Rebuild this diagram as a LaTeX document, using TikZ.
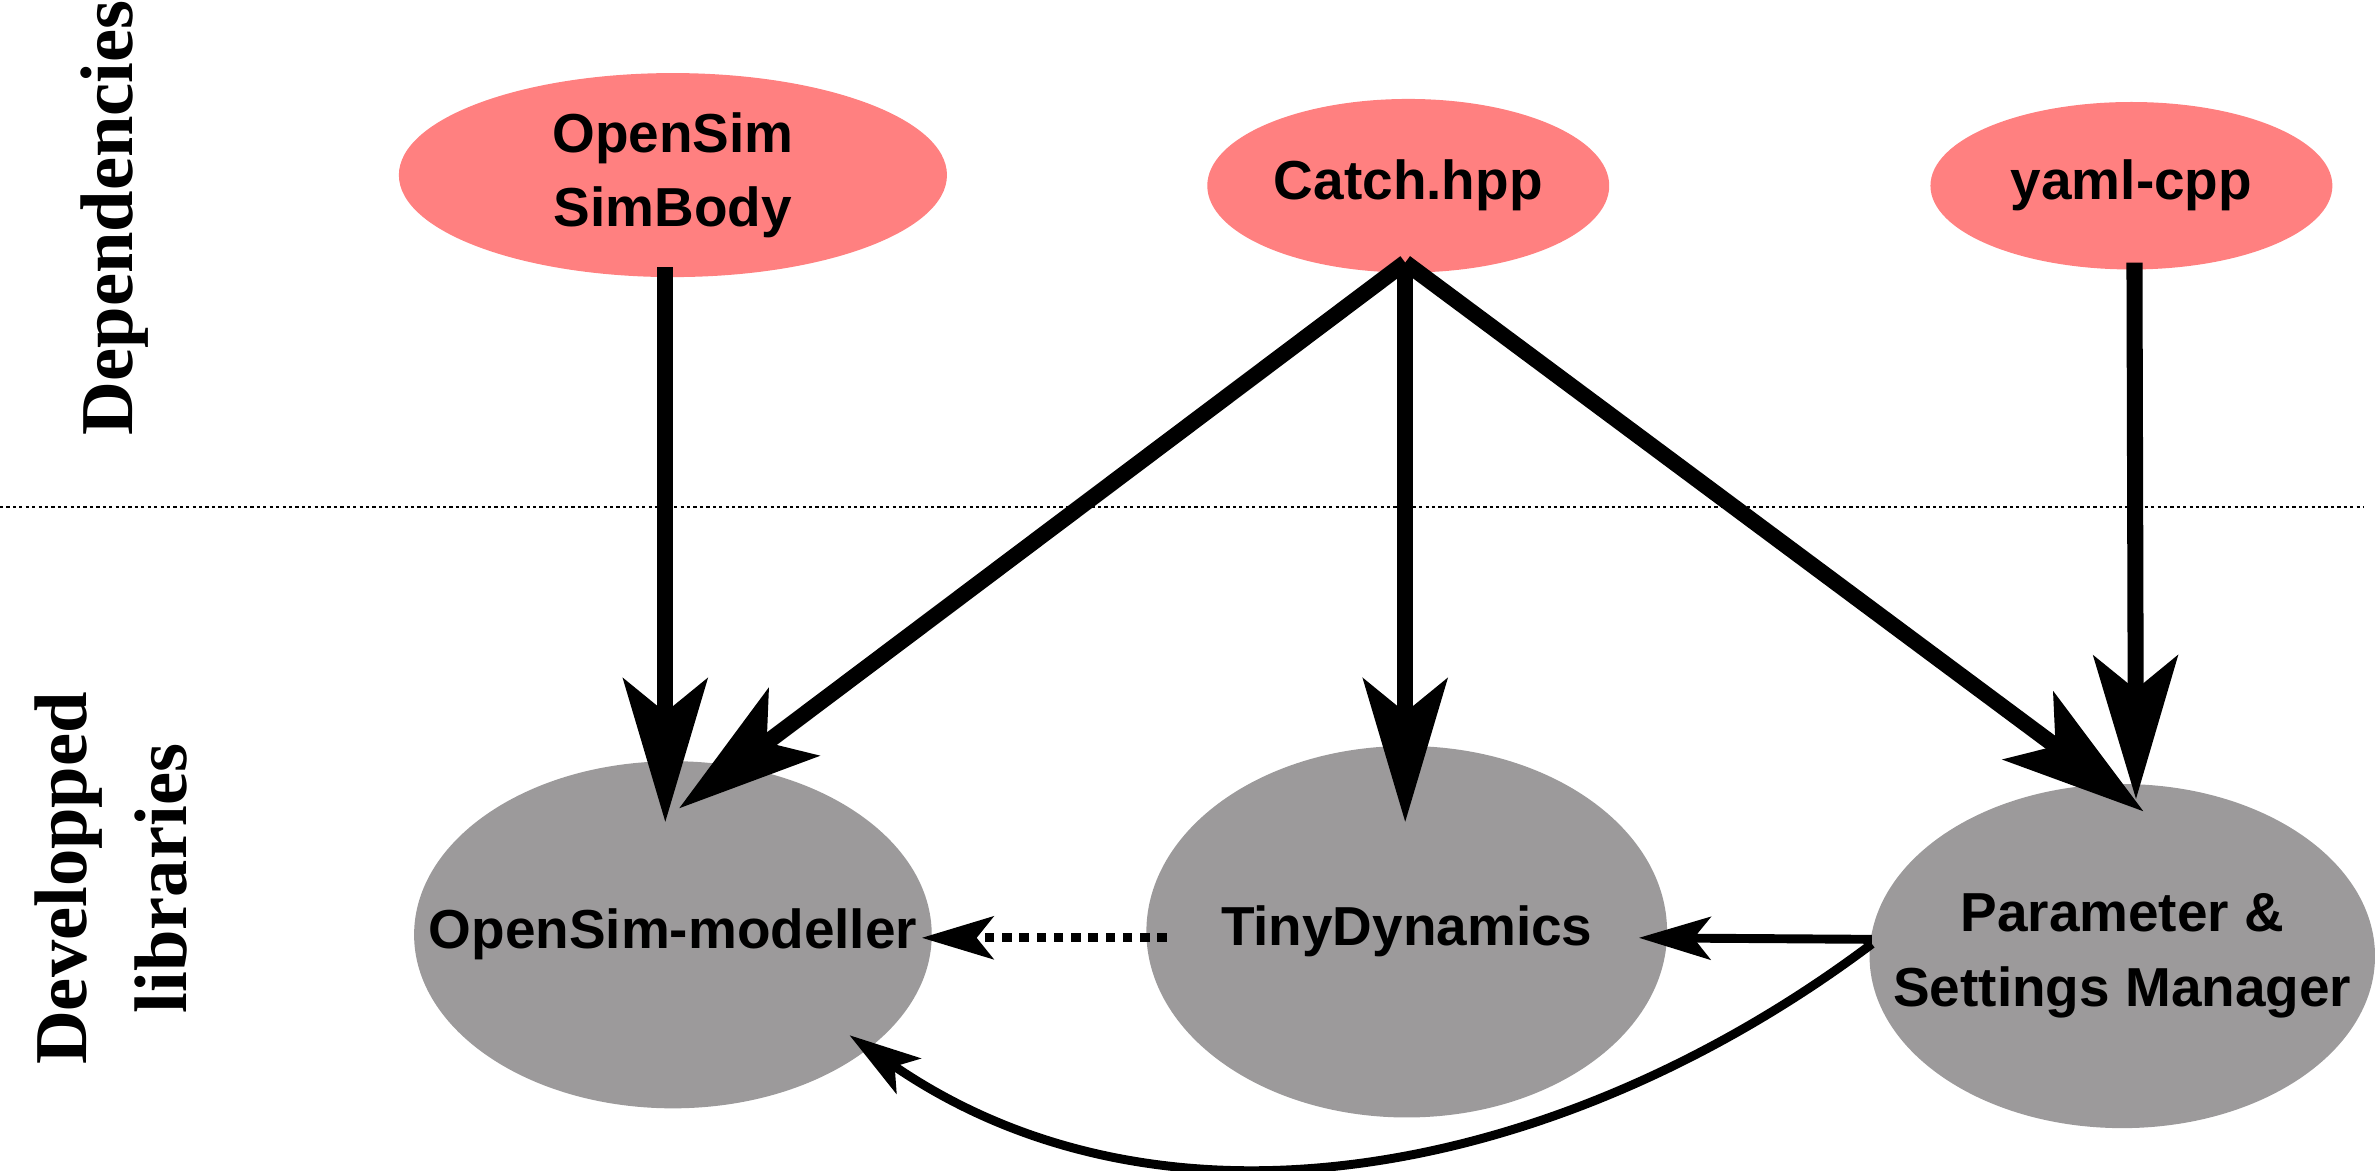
\documentclass[tikz,border=0pt]{standalone}
\usepackage{fontspec}
\setmainfont{Liberation Serif}
\setsansfont{Liberation Sans}
\usetikzlibrary{arrows.meta,calc,shapes.geometric}
\definecolor{pinkfill}{RGB}{255,128,128}
\definecolor{grayfill}{RGB}{156,154,155}
\begin{document}
\begin{tikzpicture}[x=0.015cm,y=-0.015cm,
  lib/.style={ellipse, inner sep=0pt, align=center,
    font=\sffamily\bfseries\fontsize{15.4}{20.9}\selectfont},
  depnode/.style={lib, fill=pinkfill},
  devnode/.style={lib, fill=grayfill},
  sidelabel/.style={rotate=90, align=center,
    font=\rmfamily\bfseries\fontsize{20.9}{28.2}\selectfont},
  thick arrow/.style={line width=4.5pt,
    -{Stealth[length=1.41cm,width=0.825cm,inset=0.33cm]}},
  thin arrow/.style={line width=2.5pt,
    -{Stealth[length=0.705cm,width=0.42cm,inset=0.165cm]}},
  sepline/.style={line width=0.75pt, dash pattern=on 0.9pt off 0.9pt}
]
\useasboundingbox (0,0) rectangle (1560,769);

% separator
\coordinate (sepL) at (0,333);
\coordinate (sepR) at (1553,333);
\draw[sepline] (sepL) -- (sepR);

% side labels
\node[sidelabel] (deplbl) at (75,143) {Dependencies};
\node[sidelabel] (devlbl) at (73,577) {Developped\\libraries};

% dependency nodes
\node[depnode, minimum width=5.4cm, minimum height=2.01cm] (A) at (442,115) {OpenSim\\SimBody};
\node[depnode, minimum width=3.96cm, minimum height=1.71cm] (B) at (925,122) {Catch.hpp};
\node[depnode, minimum width=3.96cm, minimum height=1.65cm] (C) at (1400,122) {yaml-cpp};

% developed libraries
\node[devnode, minimum width=5.1cm, minimum height=3.42cm] (D) at (442,614) {\makebox[0pt]{OpenSim-modeller}};
\node[devnode, minimum width=5.13cm, minimum height=3.66cm] (E) at (924,612) {\makebox[0pt]{TinyDynamics}};
\node[devnode, minimum width=4.98cm, minimum height=3.39cm] (F) at (1394,628) {\makebox[0pt]{Parameter \&}\\\makebox[0pt]{Settings Manager}};

% thick dependency arrows
\draw[thick arrow] ($(A.south)+(-5,-7)$) -- ($(D.center)+(-5,-74)$);
\draw[thick arrow] ($(B.south)+(-2,-7)$) -- ($(D.center)+(4,-83)$);
\draw[thick arrow] ($(B.south)+(-2,-7)$) -- ($(E.center)+(-1,-72)$);
\draw[thick arrow] ($(B.south)+(-2,-7)$) -- ($(F.center)+(14,-95)$);
\draw[thick arrow] ($(C.south)+(2,-5)$) -- ($(F.center)+(9,-103)$);

% internal dependencies
\draw[thin arrow, dash pattern=on 0.095cm off 0.075cm] ($(E.west)+(14,4)$) -- ($(D.east)+(-7,2)$);
\draw[thin arrow] ($(F.west)+(2,-11)$) -- ($(E.east)+(-19,4)$);
\draw[thin arrow] ($(F.west)+(2,-8)$) .. controls (1030,770) and (768,825) .. ($(D.center)+(116,66)$);
\end{tikzpicture}
\end{document}
